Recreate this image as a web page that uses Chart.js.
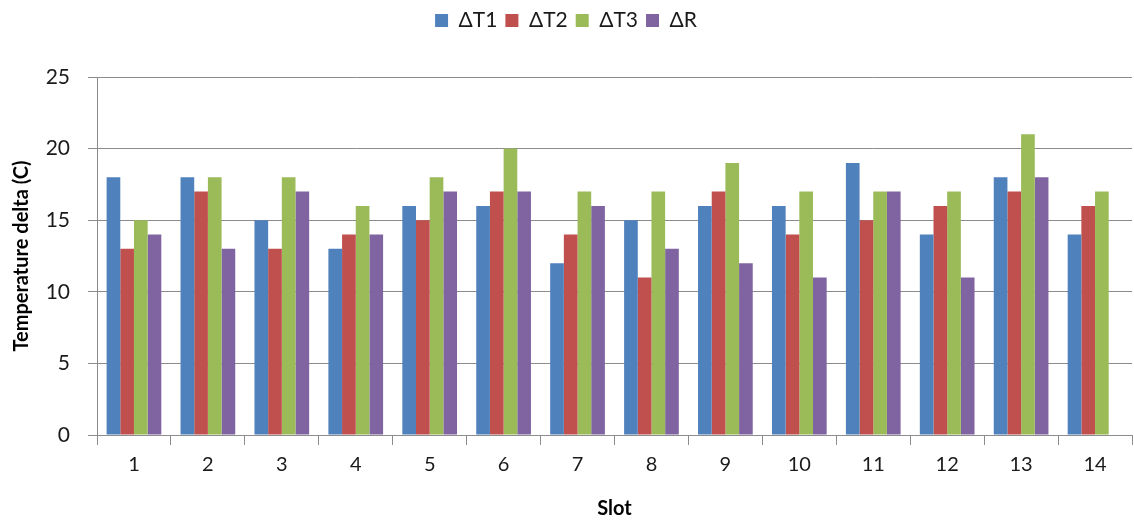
<!DOCTYPE html>
<html>
<head>
<meta charset="utf-8">
<script src="https://cdn.jsdelivr.net/npm/chart.js@4/dist/chart.umd.min.js"></script>
<style>
  html, body { margin: 0; padding: 0; background: #fff; }
  #wrap { width: 1134px; height: 521px; position: relative; }
</style>
</head>
<body>
<div id="wrap"><canvas id="c" width="1134" height="521"></canvas></div>
<script>
// Slot numbers along the x axis
const slots = ['1','2','3','4','5','6','7','8','9','10','11','12','13','14'];

// Temperature deltas per slot (°C)
const deltaT1 = [18, 18, 15, 13, 16, 16, 12, 15, 16, 16, 19, 14, 18, 14];
const deltaT2 = [13, 17, 13, 14, 15, 17, 14, 11, 17, 14, 15, 16, 17, 16];
const deltaT3 = [15, 18, 18, 16, 18, 20, 17, 17, 19, 17, 17, 17, 21, 17];
const deltaR  = [14, 13, 17, 14, 17, 17, 16, 13, 12, 11, 17, 11, 18, null];

const yTicks = [0, 5, 10, 15, 20, 25];

const FONT = "Lato, 'Open Sans', 'Liberation Sans', sans-serif";
const GRID = '#8c8c8c';

function ds(label, data, color) {
  return {
    label, data,
    backgroundColor: color,
    borderColor: color,
    borderWidth: 0,
    barPercentage: 1.0,
    categoryPercentage: 0.74
  };
}

// Leave extra room between the legend and the plot area
const legendGap = {
  id: 'legendGap',
  beforeInit(chart) {
    const fit = chart.legend.fit;
    chart.legend.fit = function () {
      fit.call(this);
      this.height += 36;
    };
  }
};

new Chart(document.getElementById('c'), {
  type: 'bar',
  plugins: [legendGap],
  data: {
    labels: slots,
    datasets: [
      ds('ΔT1', deltaT1, '#4F81BD'),
      ds('ΔT2', deltaT2, '#C0504D'),
      ds('ΔT3', deltaT3, '#9BBB59'),
      ds('ΔR',  deltaR,  '#8064A2')
    ]
  },
  options: {
    responsive: false,
    animation: false,
    layout: { padding: { left: 0, right: 2, top: 2, bottom: 0 } },
    plugins: {
      tooltip: { enabled: false },
      legend: {
        position: 'top',
        align: 'center',
        labels: {
          boxWidth: 13,
          boxHeight: 13,
          padding: 8,
          color: '#1a1a1a',
          font: { family: FONT, size: 21 }
        }
      }
    },
    scales: {
      x: {
        grid: {
          offset: true,
          drawOnChartArea: false,
          drawTicks: true,
          tickLength: 10,
          color: GRID
        },
        border: { color: GRID, width: 1 },
        ticks: {
          color: '#1a1a1a',
          padding: 8,
          maxRotation: 0,
          font: { family: FONT, size: 20 }
        },
        title: {
          display: true,
          text: 'Slot',
          color: '#000',
          padding: { top: 6, bottom: 0 },
          font: { family: FONT, size: 20, weight: 'bold' }
        },
        afterFit(scale) { scale.height = 86; }
      },
      y: {
        min: 0,
        max: 25,
        afterBuildTicks(scale) { scale.ticks = yTicks.map(v => ({ value: v })); },
        grid: {
          color: GRID,
          drawTicks: true,
          tickLength: 9
        },
        border: { color: GRID, width: 1 },
        ticks: {
          color: '#1a1a1a',
          padding: 18,
          font: { family: FONT, size: 21 }
        },
        title: {
          display: true,
          text: 'Temperature delta (C)',
          color: '#000',
          padding: { top: 10, bottom: 0 },
          font: { family: FONT, size: 20, weight: 'bold' }
        },
        afterFit(scale) { scale.width = 97; }
      }
    }
  }
});
</script>
</body>
</html>
